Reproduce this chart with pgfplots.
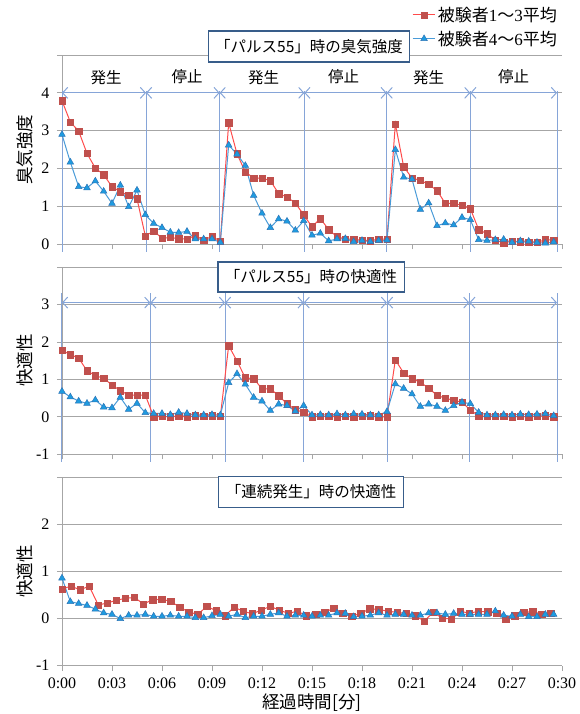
\documentclass[border=0pt]{standalone}
\usepackage{pgfplots}
\usepackage{pgfplotstable}
\pgfplotsset{compat=1.18}
\usepackage{fontspec}
\setmainfont{Liberation Serif}
\newfontfamily\jp{Noto Sans CJK JP}
\usetikzlibrary{arrows.meta}
\definecolor{redline}{HTML}{FF4B4B}
\definecolor{redmark}{HTML}{C0504D}
\definecolor{blueline}{HTML}{4A9BD8}
\definecolor{bluemark}{HTML}{1E9BE0}
\definecolor{blueedge}{HTML}{2E75B6}
\definecolor{annot}{HTML}{86A5D8}
\definecolor{boxedge}{HTML}{385D8A}
\definecolor{gridc}{HTML}{A6A6A6}

\pgfplotstableread{
t r b
0 3.79 2.90
0.5 3.23 2.17
1 2.99 1.52
1.5 2.40 1.49
2 2.01 1.67
2.5 1.84 1.40
3 1.52 1.08
3.5 1.39 1.56
4 1.29 0.99
4.5 1.20 1.43
5 0.22 0.78
5.5 0.35 0.55
6 0.16 0.44
6.5 0.18 0.32
7 0.15 0.31
7.5 0.14 0.34
8 0.23 0.14
8.5 0.11 0.14
9 0.21 0.14
9.5 0.08 0.05
10 3.21 2.62
10.5 2.39 2.38
11 1.91 2.08
11.5 1.75 1.29
12 1.75 0.82
12.5 1.68 0.44
13 1.34 0.67
13.5 1.25 0.61
14 1.09 0.37
14.5 0.78 0.62
15 0.46 0.24
15.5 0.68 0.29
16 0.39 0.09
16.5 0.20 0.14
17 0.14 0.15
17.5 0.13 0.07
18 0.11 0.10
18.5 0.10 0.07
19 0.13 0.10
19.5 0.14 0.11
20 3.18 2.50
20.5 2.05 1.77
21 1.75 1.72
21.5 1.69 0.92
22 1.58 1.09
22.5 1.42 0.49
23 1.08 0.56
23.5 1.08 0.51
24 1.03 0.71
24.5 0.94 0.65
25 0.39 0.12
25.5 0.28 0.10
26 0.11 0.12
26.5 0.04 0.13
27 0.08 0.05
27.5 0.07 0.09
28 0.06 0.08
28.5 0.05 0.05
29 0.12 0.03
29.5 0.11 0.06
}\odor

\pgfplotstableread{
t r b
0 1.78 0.68
0.5 1.66 0.53
1 1.57 0.42
1.5 1.23 0.36
2 1.10 0.45
2.5 1.03 0.26
3 0.85 0.24
3.5 0.70 0.52
4 0.58 0.20
4.5 0.58 0.36
5 0.58 0.11
5.5 0.00 0.09
6 0.01 0.09
6.5 0.00 0.06
7 0.02 0.12
7.5 0.00 0.09
8 0.03 0.05
8.5 0.02 0.05
9 0.03 0.06
9.5 0.01 0.05
10 1.90 0.91
10.5 1.49 1.15
11 1.04 0.87
11.5 1.02 0.52
12 0.75 0.42
12.5 0.75 0.17
13 0.56 0.34
13.5 0.35 0.30
14 0.19 0.15
14.5 0.12 0.30
15 0.00 0.05
15.5 0.02 0.06
16 0.01 0.05
16.5 0.00 0.08
17 0.02 0.05
17.5 0.00 0.08
18 0.02 0.07
18.5 0.03 0.05
19 0.00 0.05
19.5 0.00 0.14
20 1.52 0.88
20.5 1.17 0.76
21 1.02 0.61
21.5 0.92 0.28
22 0.77 0.34
22.5 0.57 0.28
23 0.50 0.17
23.5 0.44 0.30
24 0.39 0.39
24.5 0.18 0.35
25 0.03 0.12
25.5 0.01 0.05
26 0.02 0.05
26.5 0.02 0.06
27 0.00 0.05
27.5 0.01 0.07
28 0.00 0.06
28.5 0.02 0.07
29 0.03 0.08
29.5 0.00 0.03
}\pulsecomf

\pgfplotstableread{
t r
0 0.63
0.543 0.69
1.086 0.61
1.630 0.69
2.173 0.29
2.716 0.33
3.259 0.39
3.802 0.43
4.346 0.45
4.889 0.31
5.432 0.40
5.975 0.41
6.518 0.37
7.062 0.24
7.605 0.14
8.148 0.09
8.691 0.26
9.234 0.17
9.778 0.06
10.321 0.24
10.864 0.16
11.407 0.10
11.950 0.18
12.494 0.26
13.037 0.18
13.580 0.11
14.123 0.16
14.666 0.06
15.210 0.09
15.753 0.13
16.296 0.22
16.839 0.12
17.382 0.05
17.926 0.11
18.469 0.21
19.012 0.19
19.555 0.16
20.098 0.13
20.642 0.11
21.185 0.06
21.728 -0.05
22.271 0.13
22.814 0.01
23.358 -0.01
23.901 0.15
24.444 0.12
24.987 0.15
25.530 0.15
26.074 0.12
26.617 -0.01
27.160 0.06
27.703 0.13
28.246 0.15
28.790 0.09
29.333 0.11
}\contred

\pgfplotstableread{
t b
0 0.86
0.5 0.36
1 0.32
1.5 0.28
2 0.20
2.5 0.12
3 0.09
3.5 0.00
4 0.07
4.5 0.07
5 0.09
5.5 0.05
6 0.05
6.5 0.07
7 0.05
7.5 0.05
8 0.02
8.5 0.02
9 0.06
9.5 0.09
10 0.05
10.5 0.09
11 0.02
11.5 0.05
12 0.05
12.5 0.09
13 0.12
13.5 0.05
14 0.07
14.5 0.07
15 0.05
15.5 0.07
16 0.07
16.5 0.12
17 0.11
17.5 0.04
18 0.05
18.5 0.07
19 0.12
19.5 0.07
20 0.09
20.5 0.09
21 0.07
21.5 0.07
22 0.12
22.5 0.12
23 0.09
23.5 0.11
24 0.09
24.5 0.09
25 0.09
25.5 0.09
26 0.16
26.5 0.07
27 0.05
27.5 0.09
28 0.04
28.5 0.04
29 0.09
29.5 0.09
}\contblue

\tikzset{
  ann/.style={annot, line width=1pt},
  dbl/.style={annot, line width=1pt, {Straight Barb[length=5pt,width=11pt]}-{Straight Barb[length=5pt,width=11pt]}},
}
\pgfplotsset{
  panel/.style={
    scale only axis, width=500pt, xmin=0, xmax=30, xtick={0,3,...,30},
    axis x line*=bottom, axis y line*=left,
    axis line style={gridc, line width=0.8pt, -},
    ymajorgrids, major grid style={gridc, line width=0.8pt},
    tick align=outside, major tick length=5pt,
    tick style={gridc, line width=0.8pt},
    ticklabel style={font=\fontsize{16}{18}\selectfont},
    yticklabel style={xshift=-4pt},
    xticklabel style={yshift=-4pt},
    clip=false,
    every axis y label/.style={at={(axis description cs:0,0.5)}, xshift=-37pt, rotate=90, anchor=center, font=\jp\fontsize{17.5}{19}\selectfont},
  },
  rser/.style={color=redline, line width=1pt, mark=square*, mark size=3.2pt, mark options={fill=redmark, draw=redmark, line width=0.4pt}},
  bser/.style={color=blueline, line width=1pt, mark=triangle*, mark size=3.8pt, mark options={fill=bluemark, draw=blueedge, line width=0.5pt}},
}

\begin{document}
\begin{tikzpicture}
\path[use as bounding box] (0,0) rectangle (580pt,-714pt);

% Panel 1
\begin{axis}[panel, at={(62pt,-244.3pt)}, anchor=south west, height=189.3pt,
  ymin=0, ymax=5, ytick={0,1,2,3,4,5}, yticklabels={0,1,2,3,4,{}},
  xticklabels={},
  ylabel={臭気強度},
  legend style={at={(axis description cs:0.70,1.265)}, anchor=north west, draw=none, fill=none,
    font=\jp\fontsize{17}{19}\selectfont, row sep=4pt, inner sep=0pt},
  legend cell align=left,
  legend image code/.code={\draw[mark repeat=2,mark phase=2,#1] plot coordinates {(0cm,0cm)(0.4cm,0cm)(0.8cm,0cm)};},
]
\draw[ann] (axis cs:0,4.05) -- (axis cs:0,-0.2);
\draw[ann] (axis cs:5.04,4.05) -- (axis cs:5.04,-0.2);
\draw[ann] (axis cs:9.46,4.05) -- (axis cs:9.46,-0.2);
\draw[ann] (axis cs:14.54,4.05) -- (axis cs:14.54,-0.2);
\draw[ann] (axis cs:19.48,4.05) -- (axis cs:19.48,-0.2);
\draw[ann] (axis cs:24.5,4.05) -- (axis cs:24.5,-0.2);
\draw[ann] (axis cs:29.7,4.05) -- (axis cs:29.7,-0.2);
\draw[dbl] (axis cs:0,4) -- (axis cs:5.04,4);
\draw[dbl] (axis cs:5.04,4) -- (axis cs:9.46,4);
\draw[dbl] (axis cs:9.46,4) -- (axis cs:14.54,4);
\draw[dbl] (axis cs:14.54,4) -- (axis cs:19.48,4);
\draw[dbl] (axis cs:19.48,4) -- (axis cs:24.5,4);
\draw[dbl] (axis cs:24.5,4) -- (axis cs:29.7,4);
\node[font=\jp\fontsize{15.5}{17}\selectfont] at (axis cs:2.65,4.4) {発生};
\node[font=\jp\fontsize{15.5}{17}\selectfont] at (axis cs:7.5,4.42) {停止};
\node[font=\jp\fontsize{15.5}{17}\selectfont] at (axis cs:12.1,4.4) {発生};
\node[font=\jp\fontsize{15.5}{17}\selectfont] at (axis cs:16.9,4.42) {停止};
\node[font=\jp\fontsize{15.5}{17}\selectfont] at (axis cs:22.0,4.4) {発生};
\node[font=\jp\fontsize{15.5}{17}\selectfont] at (axis cs:27.1,4.42) {停止};
\addplot[rser] table[x=t,y=r] {\odor};
\addlegendentry{被験者\rmfamily 1{\jp ～}3{\jp 平均}}
\addplot[bser] table[x=t,y=b] {\odor};
\addlegendentry{被験者\rmfamily 4{\jp ～}6{\jp 平均}}
\end{axis}

% Panel 2
\begin{axis}[panel, at={(62pt,-454.3pt)}, anchor=south west, height=187.3pt,
  ymin=-1, ymax=4, ytick={-1,0,1,2,3,4}, yticklabels={-1,0,1,2,3,{}},
  xticklabels={},
  ylabel={快適性},
]
\draw[ann] (axis cs:0,3.3) -- (axis cs:0,-1.2);
\draw[ann] (axis cs:5.3,3.3) -- (axis cs:5.3,-1.2);
\draw[ann] (axis cs:9.78,3.3) -- (axis cs:9.78,-1.2);
\draw[ann] (axis cs:14.5,3.3) -- (axis cs:14.5,-1.2);
\draw[ann] (axis cs:19.5,3.3) -- (axis cs:19.5,-1.2);
\draw[ann] (axis cs:24.44,3.3) -- (axis cs:24.44,-1.2);
\draw[ann] (axis cs:29.7,3.3) -- (axis cs:29.7,-1.2);
\draw[dbl] (axis cs:0,3.05) -- (axis cs:5.3,3.05);
\draw[dbl] (axis cs:5.3,3.05) -- (axis cs:9.78,3.05);
\draw[dbl] (axis cs:9.78,3.05) -- (axis cs:14.5,3.05);
\draw[dbl] (axis cs:14.5,3.05) -- (axis cs:19.5,3.05);
\draw[dbl] (axis cs:19.5,3.05) -- (axis cs:24.44,3.05);
\draw[dbl] (axis cs:24.44,3.05) -- (axis cs:29.7,3.05);
\addplot[rser] table[x=t,y=r] {\pulsecomf};
\addplot[bser] table[x=t,y=b] {\pulsecomf};
\end{axis}

% Panel 3
\begin{axis}[panel, at={(62pt,-665.7pt)}, anchor=south west, height=188.4pt,
  ymin=-1, ymax=3, ytick={-1,0,1,2,3}, yticklabels={-1,0,1,2,{}},
  xticklabels={0:00,0:03,0:06,0:09,0:12,0:15,0:18,0:21,0:24,0:27,0:30},
  ylabel={快適性},
  xlabel={経過時間[分]},
  every axis x label/.style={at={(axis description cs:0.5,0)}, yshift=-37pt, anchor=center, font=\jp\fontsize{17.5}{19}\selectfont},
]
\addplot[rser] table[x=t,y=r] {\contred};
\addplot[bser] table[x=t,y=b] {\contblue};
\end{axis}

\node[draw=boxedge, line width=1.2pt, fill=white, font=\jp\fontsize{15.5}{17}\selectfont, inner xsep=7pt, minimum height=31pt] at (309pt,-46.5pt) {「パルス55」時の臭気強度};
\node[draw=boxedge, line width=1.2pt, fill=white, font=\jp\fontsize{15.5}{17}\selectfont, inner xsep=7pt, minimum height=30pt] at (311pt,-277pt) {「パルス55」時の快適性};
\node[draw=boxedge, line width=1.2pt, fill=white, font=\jp\fontsize{15.5}{17}\selectfont, inner xsep=7pt, minimum height=31pt] at (311pt,-492pt) {「連続発生」時の快適性};
\end{tikzpicture}
\end{document}
